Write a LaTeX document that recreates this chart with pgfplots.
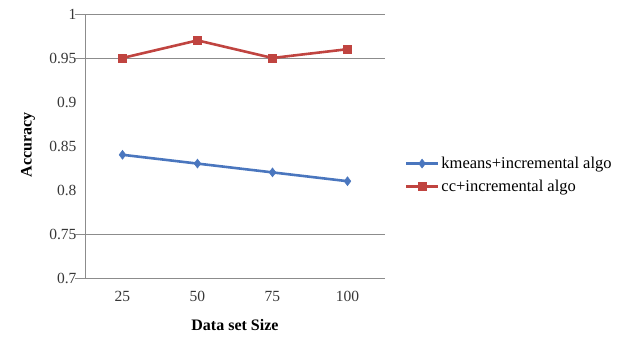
\documentclass[border=0pt]{standalone}
\usepackage{pgfplots}
\pgfplotsset{compat=1.18}
\usepackage{fontspec}
\setmainfont{Liberation Serif}
\definecolor{serblue}{RGB}{74,118,190}
\definecolor{serred}{RGB}{192,68,64}
\definecolor{gridgray}{RGB}{140,140,140}
\definecolor{txtgray}{RGB}{55,55,55}
\begin{document}
\begin{tikzpicture}
\begin{axis}[
  scale only axis, width=300pt, height=264pt,
  clip=false,
  xmin=0.5, xmax=4.5, ymin=0.7, ymax=1,
  xtick={1,2,3,4}, xticklabels={25,50,75,100},
  ytick={0.7,0.75,0.8,0.85,0.9,0.95,1},
  yticklabels={0.7,0.75,0.8,0.85,0.9,0.95,1},
  major tick length=0pt,
  extra y ticks={0.7,0.75,0.95,1},
  extra y tick labels={},
  extra y tick style={grid=major, major tick length=10pt, tick align=outside,
    tick style={gridgray, line width=0.8pt}},
  grid style={gridgray, line width=0.8pt},
  axis line style={gridgray, line width=0.8pt},
  axis x line*=bottom, axis y line*=left,
  x axis line style={-}, y axis line style={-},
  tick label style={font=\fontsize{15.5}{15.5}\selectfont, text=txtgray},
  yticklabel style={xshift=-5pt},
  xticklabel style={yshift=-10pt},
  ylabel={\textbf{Accuracy}},
  xlabel={\textbf{Data set Size}},
  label style={font=\fontsize{16}{16}\selectfont, text=black},
  ylabel style={at={(rel axis cs:-0.19,0.504)}, anchor=center},
  xlabel style={at={(rel axis cs:0.5,-0.178)}, anchor=center},
  legend style={draw=none, fill=none, at={(rel axis cs:1.065,0.39)}, anchor=west,
    font=\fontsize{16.5}{16.5}\selectfont,
    row sep=6pt, cells={anchor=west}, inner sep=0pt},
  legend image code/.code={
    \draw[#1, line width=3.5pt] (0cm,0cm) -- (1.1cm,0cm);
    \draw[#1, only marks] plot coordinates {(0.55cm,0cm)};},
]
% frame of the whole figure
\path (rel axis cs:-0.2833,-0.2273) rectangle (rel axis cs:1.7967,1.0530);
\addplot[serblue, line width=2.6pt, mark=diamond*, mark size=4.5pt,
  mark options={solid, line width=0.5pt}]
  coordinates {(1,0.84) (2,0.83) (3,0.82) (4,0.81)};
\addlegendentry{kmeans+incremental algo}
\addplot[serred, line width=2.6pt, mark=square*, mark size=4pt,
  mark options={solid, line width=0.5pt}]
  coordinates {(1,0.95) (2,0.97) (3,0.95) (4,0.96)};
\addlegendentry{cc+incremental algo}
\end{axis}
\end{tikzpicture}
\end{document}
